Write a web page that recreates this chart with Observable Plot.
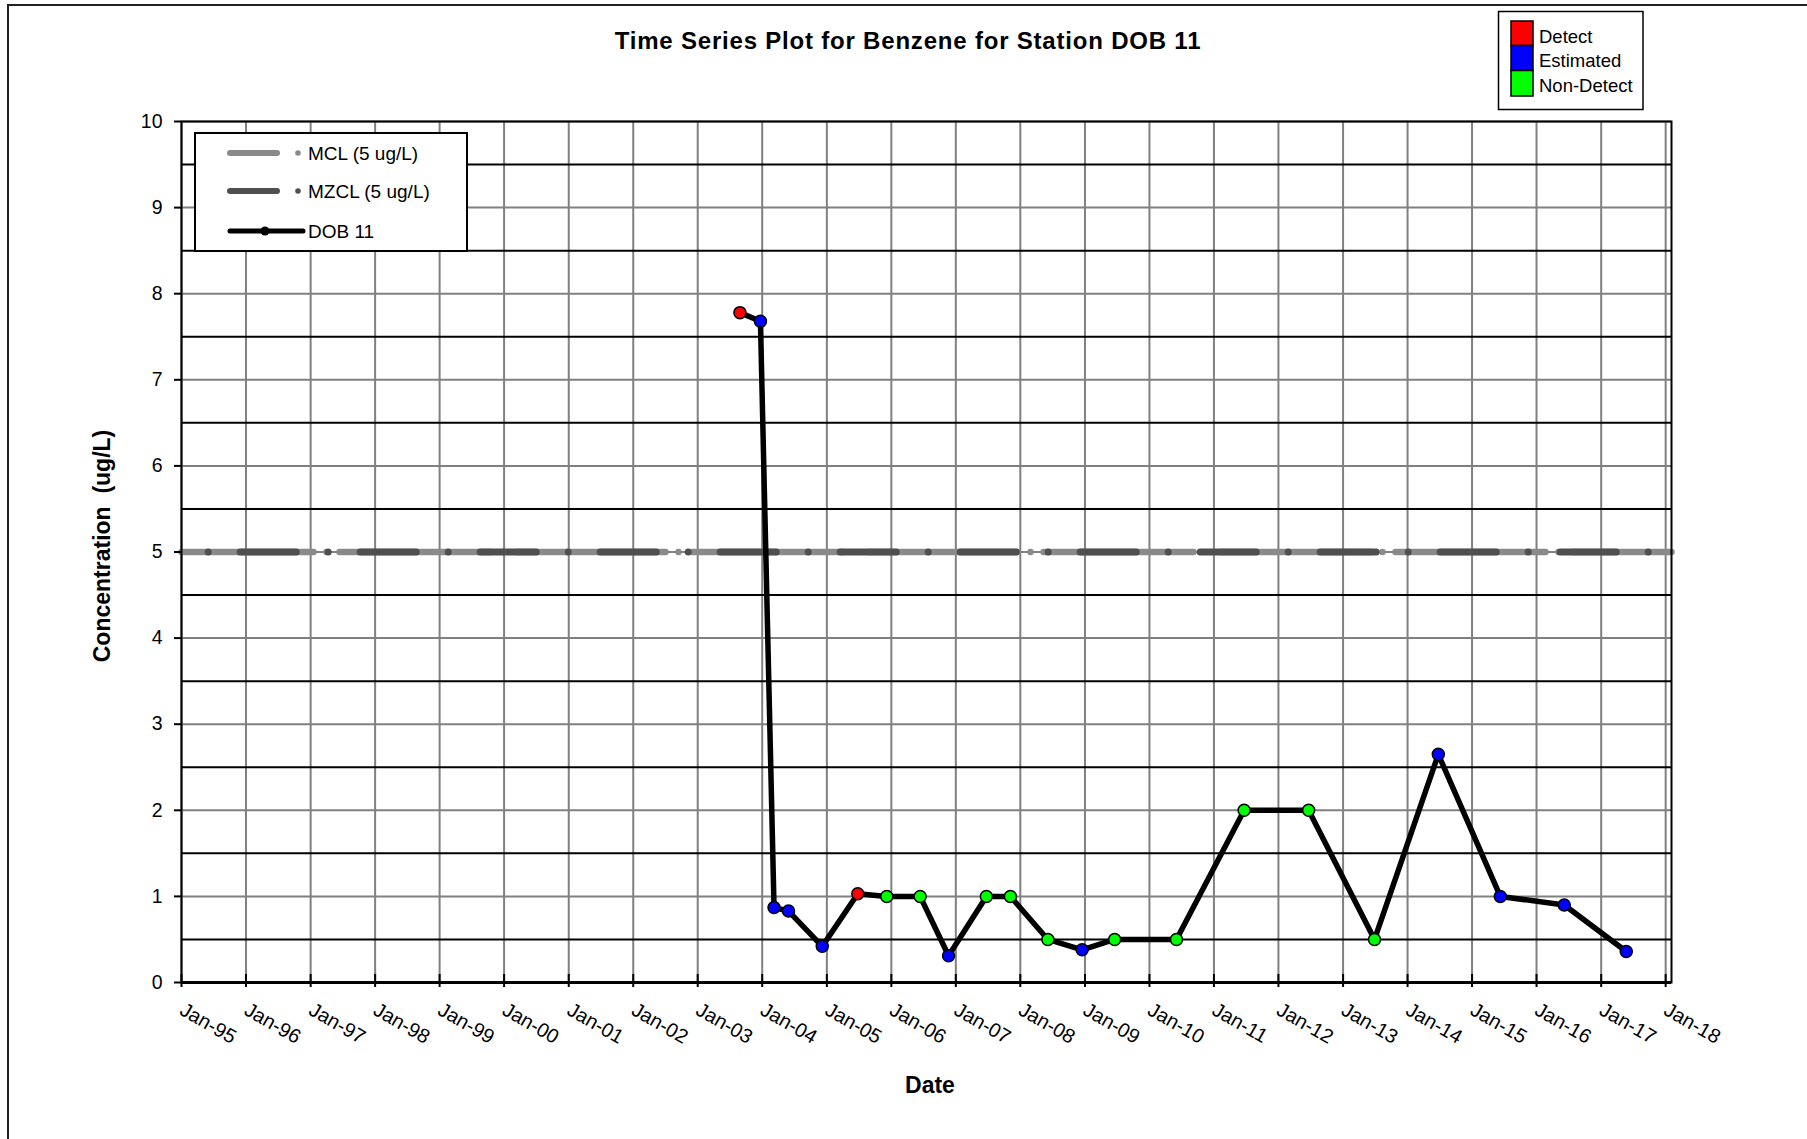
<!DOCTYPE html>
<html><head><meta charset="utf-8">
<script src="https://cdn.jsdelivr.net/npm/d3@7"></script>
<script src="https://cdn.jsdelivr.net/npm/@observablehq/plot@0.6"></script>
<style>
html,body{margin:0;padding:0;background:#fff;overflow:hidden;}
#wrap{position:relative;width:1807px;height:1139px;font-family:"Liberation Sans",Arial,sans-serif;}
#outer{position:absolute;left:7px;top:4px;width:2000px;height:2000px;border-left:2px solid #222;border-top:2px solid #222;}
#chart{position:absolute;left:0;top:0;}
#overlay{position:absolute;left:0;top:0;pointer-events:none;}
</style></head>
<body><div id="wrap"><div id="outer"></div><div id="chart"></div><svg id="overlay" width="1807" height="1139"></svg></div>
<script>
// ---- data ----
const sampleDates = ["2003-08-28","2003-12-22","2004-03-08","2004-05-29","2004-12-06","2005-06-25","2005-12-06","2006-06-13","2006-11-21","2007-06-23","2007-11-06","2008-06-05","2008-12-16","2009-06-18","2010-06-03","2011-06-21","2012-06-20","2013-06-28","2014-06-24","2015-06-10","2016-06-06","2017-05-23"];
const concentrations = [7.78,7.68,0.87,0.83,0.42,1.03,1.0,1.0,0.31,1.0,1.0,0.5,0.38,0.5,0.5,2.0,2.0,0.5,2.65,1.0,0.9,0.36];
const qualifiers = ["Detect","Estimated","Estimated","Estimated","Estimated","Detect","Non-Detect","Non-Detect","Estimated","Non-Detect","Non-Detect","Non-Detect","Estimated","Non-Detect","Non-Detect","Non-Detect","Non-Detect","Non-Detect","Estimated","Estimated","Estimated","Estimated"];
const tickYears = [1995,1996,1997,1998,1999,2000,2001,2002,2003,2004,2005,2006,2007,2008,2009,2010,2011,2012,2013,2014,2015,2016,2017,2018];
const tickLabels = ["Jan-95","Jan-96","Jan-97","Jan-98","Jan-99","Jan-00","Jan-01","Jan-02","Jan-03","Jan-04","Jan-05","Jan-06","Jan-07","Jan-08","Jan-09","Jan-10","Jan-11","Jan-12","Jan-13","Jan-14","Jan-15","Jan-16","Jan-17","Jan-18"];
const yTicks = [0,1,2,3,4,5,6,7,8,9,10];
const yHalfLines = [0.5,1.5,2.5,3.5,4.5,5.5,6.5,7.5,8.5,9.5];
const xDomain = ["1995-01-01","2018-02-03"];
const mclValue = 5;
const mzclValue = 5;
const qualifierCats = ["Detect","Estimated","Non-Detect"];
const seriesLabels = ["MCL (5 ug/L)","MZCL (5 ug/L)","DOB 11"];
const titleText = "Time Series Plot for Benzene for Station DOB 11";
const yTitle = "Concentration  (ug/L)";
const xTitle = "Date";

// ---- build ----
const data = sampleDates.map((d,i)=>({date:new Date(d), value:concentrations[i], status:qualifiers[i]}));
const yearDates = tickYears.map(y=>new Date(Date.UTC(y,0,1)));
const x0 = new Date(xDomain[0]), x1 = new Date(xDomain[1]);
const limitLine = v => [{date:x0,value:v},{date:x1,value:v}];
const FONT = '"Liberation Sans", Arial, sans-serif';
const qColors = ["#ff0000","#0000ff","#00ff00"];

const chart = Plot.plot({
  width:1807, height:1139,
  marginLeft:181, marginRight:136, marginTop:121, marginBottom:157,
  style:{fontFamily:FONT, fontSize:"19px", background:"transparent", overflow:"visible", color:"#000"},
  x:{type:"utc", domain:[x0,x1]},
  y:{domain:[0,10]},
  color:{domain:qualifierCats, range:qColors},
  marks:[
    Plot.ruleX(yearDates, {x:d=>d, stroke:"#808080", strokeWidth:2}),
    Plot.ruleY(yTicks, {y:d=>d, stroke:"#808080", strokeWidth:2}),
    Plot.ruleY(yHalfLines, {y:d=>d, stroke:"#000", strokeWidth:2}),
    Plot.line(limitLine(mclValue), {x:"date", y:"value", stroke:"#8a8a8a", strokeWidth:6.5, strokeLinecap:"round", strokeDasharray:"150 13 0 13", strokeDashoffset:18}),
    Plot.line(limitLine(mzclValue), {x:"date", y:"value", stroke:"#4f4f4f", strokeWidth:7, strokeLinecap:"round", strokeDasharray:"56 32 0 32", strokeDashoffset:61.3}),
    Plot.frame({stroke:"#000", strokeWidth:2}),
    Plot.ruleY([0], {y:d=>d, stroke:"#000", strokeWidth:3}),
    Plot.axisX({ticks:yearDates, tickSize:13, dy:-8, tickFormat:()=>"", label:null, strokeWidth:2}),
    Plot.text(yearDates, {x:d=>d, text:(d,i)=>tickLabels[i], frameAnchor:"bottom", dx:4, dy:19, rotate:30, textAnchor:"start", lineAnchor:"top", fontSize:20, fill:"#000"}),
    Plot.axisY({ticks:yTicks, tickSize:7, tickPadding:12, label:null, fontSize:19.5, strokeWidth:2}),
    Plot.line(data, {x:"date", y:"value", stroke:"#000", strokeWidth:5.5, strokeLinejoin:"round", strokeLinecap:"round"}),
    Plot.dot(data, {x:"date", y:"value", r:6, fill:"status", stroke:"#000", strokeWidth:1.5})
  ]
});
document.getElementById("chart").appendChild(chart);

// ---- overlay texts & legends ----
const svg = d3.select("#overlay").attr("font-family", FONT);
svg.append("text").attr("x",908).attr("y",48.5).attr("text-anchor","middle")
  .attr("font-weight","bold").attr("font-size",24).attr("letter-spacing",0.8).text(titleText);
svg.append("text").attr("transform","translate(110,546) rotate(-90)").attr("text-anchor","middle")
  .attr("font-weight","bold").attr("font-size",23).style("white-space","pre").text(yTitle);
svg.append("text").attr("x",930).attr("y",1093).attr("text-anchor","middle")
  .attr("font-weight","bold").attr("font-size",23).text(xTitle);

// series legend
svg.append("rect").attr("x",195).attr("y",133).attr("width",272).attr("height",118)
  .attr("fill","#fff").attr("stroke","#000").attr("stroke-width",2);
const sl = [{y:153,c:"#8a8a8a",w:6,x2:277,dot:298,r:2.8},{y:191,c:"#4f4f4f",w:6,x2:277,dot:298,r:2.8},{y:231,c:"#000",w:5,x2:303,dot:265,r:4.5}];
sl.forEach((s,i)=>{
  svg.append("line").attr("x1",230).attr("x2",s.x2).attr("y1",s.y).attr("y2",s.y)
    .attr("stroke",s.c).attr("stroke-width",s.w).attr("stroke-linecap","round");
  svg.append("circle").attr("cx",s.dot).attr("cy",s.y).attr("r",s.r).attr("fill",s.c);
  svg.append("text").attr("x",308).attr("y",s.y+6.8).attr("font-size",19).text(seriesLabels[i]);
});

// qualifier legend
svg.append("rect").attr("x",1498.5).attr("y",11.5).attr("width",144.5).attr("height",98)
  .attr("fill","#fff").attr("stroke","#000").attr("stroke-width",1.5);
const sw = [[21,45.5],[45.5,70.5],[70.5,96]];
const ty = [36,60.5,85.5];
qualifierCats.forEach((q,i)=>{
  svg.append("rect").attr("x",1511).attr("y",sw[i][0]).attr("width",22).attr("height",sw[i][1]-sw[i][0])
    .attr("fill",qColors[i]).attr("stroke","#000").attr("stroke-width",1.5);
  svg.append("text").attr("x",1539).attr("y",ty[i]+6.6).attr("font-size",18.5).text(q);
});
</script>
</body></html>
